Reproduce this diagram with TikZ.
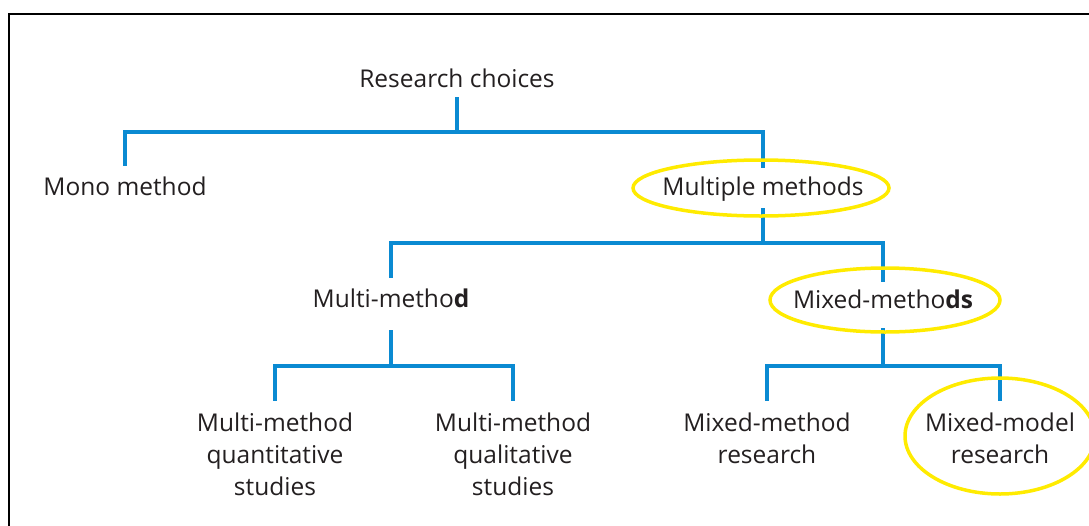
\documentclass[tikz,border=0pt]{standalone}
\usepackage{fontspec}
\setmainfont{Open Sans}
\definecolor{tblue}{HTML}{0A8AD2}
\definecolor{tyel}{HTML}{FFEB00}
\definecolor{ttext}{HTML}{231F20}
\begin{document}
\begin{tikzpicture}[x=1pt,y=-1pt,
  lbl/.style={anchor=base,inner sep=0pt,text=ttext,font=\fontsize{24.5}{32}\selectfont,align=center},
  conn/.style={draw=tblue,line width=4pt},
  hl/.style={draw=tyel,line width=3.5pt},
  frame/.style={draw=black,line width=2pt}]
\useasboundingbox (0,0) rectangle (1089,525);
\draw[frame] (9,530) -- (9,14) -- (1095,14);
% nodes
\node[lbl] (root) at (457,87) {Research choices};
\node[lbl] (mono) at (125,195) {Mono method};
\node[lbl] (multiple) at (763,195) {Multiple methods};
\node[lbl] (multi) at (391,307) {Multi-metho\textbf{d}};
\node[lbl] (mixed) at (883,308) {Mixed-metho\textbf{ds}};
\node[lbl] (quant) at (275,495) {Multi-method\\quantitative\\studies};
\node[lbl] (qual) at (513,495) {Multi-method\\qualitative\\studies};
\node[lbl] (mmr) at (767,463) {Mixed-method\\research};
\node[lbl] (mmodr) at (1000,463) {Mixed-model\\research};
% bar levels
\coordinate (b1) at (0,132);
\coordinate (b2) at (0,243);
\coordinate (b3) at (0,366);
% connector start points
\coordinate (s0) at ([yshift=-10pt]root.base);
\coordinate (s1) at ([yshift=-13pt]multiple.base);
\coordinate (s2) at ([yshift=-23pt]multi.base);
\coordinate (s3) at ([yshift=-20pt]mixed.base);
% connectors
\draw[conn] (s0) -- (s0 |- b1) -| ([yshift=29pt]mono.base);
\draw[conn] (s0 |- b1) -| ([yshift=27pt]multiple.base);
\draw[conn] (s1) -- (s1 |- b2) -| ([yshift=29pt]multi.base);
\draw[conn] (s1 |- b2) -| ([yshift=26pt]mixed.base);
\draw[conn] (s2) -- (s2 |- b3) -| ([yshift=94pt]quant.base);
\draw[conn] (s2 |- b3) -| ([yshift=94pt]qual.base);
\draw[conn] (s3) -- (s3 |- b3) -| ([yshift=62pt]mmr.base);
\draw[conn] (s3 |- b3) -| ([yshift=62pt]mmodr.base);
% highlights
\draw[hl] ([xshift=-2pt,yshift=7pt]multiple.base) ellipse [x radius=128pt, y radius=28pt];
\draw[hl] ([xshift=2pt,yshift=8pt]mixed.base) ellipse [x radius=115pt, y radius=32pt];
\draw[hl] ([yshift=27pt]mmodr.base) ellipse [x radius=95pt, y radius=58pt];
\end{tikzpicture}
\end{document}
